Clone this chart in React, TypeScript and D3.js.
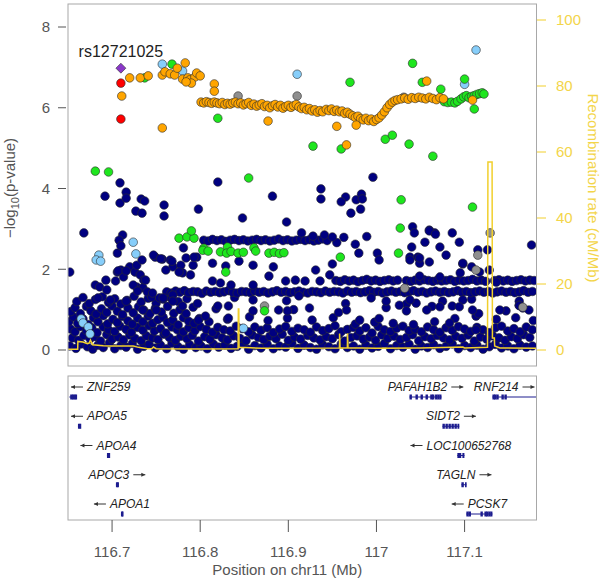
import React from 'react';
import * as d3 from 'd3';

type Pt = [number, number];

// ---- association results, -log10(p) by position (Mb) ----
const navyRow1: Pt[] = [[116.652,0.1],[116.659,0.04],[116.665,0.15],[116.672,0.08],[116.678,0.02],[116.684,0.12],[116.69,0.06],[116.697,0.18],[116.703,0.03],[116.71,0.11],[116.716,0.07],[116.723,0.16],[116.729,0.02],[116.736,0.09],[116.742,0.14],[116.749,0.05],[116.755,0.12],[116.762,0.03],[116.768,0.17],[116.775,0.08],[116.781,0.02],[116.788,0.13],[116.795,0.06],[116.801,0.1],[116.808,0.03],[116.815,0.15],[116.821,0.07],[116.828,0.12],[116.835,0.04],[116.842,0.09],[116.849,0.16],[116.855,0.02],[116.862,0.11],[116.869,0.05],[116.876,0.14],[116.883,0.03],[116.89,0.1],[116.897,0.07],[116.904,0.17],[116.911,0.04],[116.918,0.12],[116.925,0.06],[116.932,0.02],[116.939,0.13],[116.946,0.08],[116.953,0.03],[116.96,0.15],[116.967,0.06],[116.974,0.1],[116.981,0.02],[116.988,0.12],[116.995,0.05],[117.002,0.09],[117.009,0.16],[117.016,0.03],[117.023,0.11],[117.03,0.07],[117.037,0.14],[117.044,0.02],[117.051,0.1],[117.058,0.06],[117.065,0.13],[117.072,0.04],[117.079,0.09],[117.086,0.15],[117.093,0.03],[117.1,0.11],[117.107,0.06],[117.114,0.12],[117.121,0.02],[117.128,0.08],[117.135,0.14],[117.142,0.05],[117.149,0.1],[117.156,0.03],[117.163,0.12],[117.17,0.07],[117.177,0.1]];
const navyRow2: Pt[] = [[116.655,0.3],[116.662,0.24],[116.668,0.36],[116.675,0.28],[116.681,0.33],[116.687,0.22],[116.694,0.38],[116.7,0.27],[116.707,0.32],[116.713,0.25],[116.72,0.37],[116.726,0.29],[116.733,0.23],[116.739,0.35],[116.746,0.3],[116.752,0.26],[116.759,0.39],[116.765,0.31],[116.772,0.24],[116.778,0.34],[116.785,0.28],[116.791,0.36],[116.798,0.22],[116.805,0.33],[116.811,0.27],[116.818,0.38],[116.825,0.3],[116.831,0.25],[116.838,0.35],[116.845,0.29],[116.852,0.23],[116.859,0.37],[116.866,0.31],[116.872,0.26],[116.879,0.34],[116.886,0.28],[116.893,0.39],[116.9,0.24],[116.907,0.32],[116.914,0.27],[116.922,0.36],[116.929,0.3],[116.936,0.25],[116.943,0.33],[116.95,0.28],[116.957,0.38],[116.964,0.22],[116.971,0.31],[116.978,0.35],[116.985,0.27],[116.992,0.32],[116.999,0.24],[117.006,0.37],[117.013,0.29],[117.02,0.34],[117.027,0.26],[117.034,0.31],[117.041,0.38],[117.048,0.23],[117.055,0.33],[117.062,0.28],[117.069,0.36],[117.076,0.3],[117.083,0.25],[117.09,0.34],[117.097,0.29],[117.104,0.37],[117.111,0.22],[117.118,0.32],[117.125,0.27],[117.132,0.35],[117.139,0.3],[117.146,0.24],[117.153,0.33],[117.16,0.28],[117.167,0.38],[117.174,0.31]];
const navyRow3: Pt[] = [[116.653,0.52],[116.658,0.45],[116.664,0.58],[116.671,0.48],[116.677,0.55],[116.683,0.43],[116.69,0.57],[116.696,0.5],[116.703,0.46],[116.709,0.59],[116.716,0.51],[116.722,0.44],[116.729,0.56],[116.735,0.49],[116.742,0.6],[116.748,0.47],[116.755,0.53],[116.761,0.42],[116.768,0.57],[116.774,0.5],[116.781,0.45],[116.787,0.55],[116.794,0.48],[116.8,0.58],[116.807,0.51],[116.814,0.44],[116.82,0.56],[116.827,0.5],[116.834,0.47],[116.841,0.59],[116.848,0.53],[116.855,0.45],[116.862,0.57],[116.869,0.49],[116.876,0.55],[116.883,0.43],[116.89,0.52],[116.897,0.58],[116.904,0.46],[116.911,0.54],[116.918,0.5],[116.925,0.44],[116.932,0.57],[116.939,0.48],[116.946,0.53],[116.953,0.6],[116.96,0.45],[116.967,0.51],[116.974,0.56],[116.981,0.47],[116.988,0.55],[116.995,0.42],[117.002,0.58],[117.009,0.5],[117.016,0.46],[117.023,0.54],[117.03,0.59],[117.037,0.48],[117.044,0.52],[117.051,0.45],[117.058,0.57],[117.065,0.5],[117.072,0.44],[117.079,0.55],[117.086,0.49],[117.093,0.58],[117.1,0.52],[117.107,0.46],[117.114,0.56],[117.121,0.5],[117.128,0.43],[117.135,0.55],[117.142,0.59],[117.149,0.47],[117.156,0.53],[117.163,0.45],[117.17,0.57],[117.177,0.5]];
const navyRow4: Pt[] = [[116.651,0.7],[116.656,0.82],[116.661,0.66],[116.667,0.77],[116.673,0.63],[116.679,0.8],[116.684,0.7],[116.69,0.85],[116.695,0.65],[116.701,0.76],[116.706,0.68],[116.712,0.83],[116.718,0.72],[116.723,0.64],[116.729,0.79],[116.735,0.7],[116.741,0.84],[116.746,0.66],[116.752,0.75],[116.758,0.81],[116.763,0.68],[116.769,0.74],[116.775,0.62],[116.781,0.8],[116.787,0.71],[116.793,0.66],[116.799,0.78],[116.81,0.7],[116.831,0.76],[116.856,0.82],[116.877,0.73],[116.899,0.79],[116.927,0.74],[116.951,0.8],[116.976,0.64],[116.998,0.69],[117.019,0.66],[117.042,0.63],[117.066,0.7],[117.089,0.78],[117.113,0.84],[117.136,0.76],[117.158,0.8],[117.178,0.73]];
const navyRow5: Pt[] = [[116.653,0.95],[116.658,1.05],[116.664,0.9],[116.671,1.08],[116.676,0.97],[116.682,0.89],[116.688,1.02],[116.694,0.93],[116.7,1.09],[116.706,0.96],[116.712,0.88],[116.718,1.04],[116.724,0.92],[116.73,1.07],[116.736,0.99],[116.743,0.9],[116.749,1.03],[116.756,0.94],[116.763,1.08],[116.77,0.91],[116.777,1.0],[116.784,0.9],[116.792,1.06],[116.818,1.02],[116.86,0.97],[116.906,1.0],[116.957,0.93],[117.011,1.05],[117.063,1.08],[117.116,0.9],[117.166,1.04]];
const navyRow6: Pt[] = [[116.66,1.2],[116.667,1.3],[116.674,1.15],[116.681,1.25],[116.689,1.32],[116.696,1.18],[116.703,1.27],[116.71,1.14],[116.717,1.23],[116.725,1.33],[116.733,1.19],[116.741,1.28],[116.75,1.16],[116.758,1.26],[116.766,1.31],[116.775,1.2],[116.785,1.27],[116.797,1.15],[116.839,1.3],[116.898,1.22],[116.965,1.15],[117.034,1.14],[117.108,1.26],[117.162,1.21]];
const navyBandLow: Pt[] = [[116.762,1.44],[116.767,1.41],[116.772,1.46],[116.777,1.43],[116.782,1.47],[116.787,1.42],[116.792,1.45],[116.797,1.44],[116.802,1.4],[116.807,1.46],[116.812,1.43],[116.817,1.45],[116.822,1.42],[116.827,1.44],[116.832,1.47],[116.837,1.43],[116.842,1.41],[116.847,1.45],[116.852,1.44],[116.857,1.42],[116.862,1.46],[116.867,1.43],[116.872,1.45],[116.877,1.41],[116.882,1.44],[116.887,1.47],[116.892,1.43],[116.897,1.45],[116.902,1.42],[116.907,1.44],[116.912,1.46],[116.917,1.43],[116.922,1.41],[116.927,1.45],[116.932,1.44],[116.937,1.42],[116.942,1.46],[116.947,1.43],[116.952,1.45],[116.957,1.44],[116.962,1.41],[116.967,1.46],[116.972,1.43],[116.977,1.45],[116.982,1.42],[116.987,1.44],[116.992,1.47],[116.997,1.43],[117.002,1.45],[117.007,1.41],[117.012,1.44],[117.017,1.46],[117.022,1.43],[117.027,1.45],[117.032,1.42],[117.037,1.44],[117.042,1.47],[117.047,1.43],[117.052,1.45],[117.057,1.41],[117.062,1.44],[117.067,1.46],[117.072,1.43],[117.077,1.45],[117.082,1.42],[117.087,1.44],[117.092,1.47],[117.097,1.43],[117.102,1.45],[117.107,1.42],[117.112,1.44],[117.117,1.46],[117.122,1.43],[117.127,1.45],[117.132,1.41],[117.137,1.44],[117.142,1.46],[117.147,1.43],[117.152,1.45],[117.157,1.42],[117.162,1.44],[117.167,1.47],[117.172,1.43],[117.177,1.45]];
const navyBandMid: Pt[] = [[116.954,1.72],[116.959,1.7],[116.964,1.74],[116.969,1.71],[116.974,1.73],[116.979,1.69],[116.984,1.72],[116.989,1.75],[116.994,1.71],[116.999,1.73],[117.004,1.7],[117.009,1.72],[117.014,1.74],[117.019,1.71],[117.024,1.73],[117.034,1.72],[117.039,1.7],[117.044,1.73],[117.049,1.71],[117.054,1.74],[117.059,1.72],[117.064,1.7],[117.069,1.73],[117.074,1.71],[117.079,1.72],[117.084,1.74],[117.089,1.7],[117.094,1.73],[117.099,1.71],[117.104,1.72],[117.109,1.75],[117.114,1.71],[117.119,1.73],[117.124,1.7],[117.134,1.72],[117.139,1.74],[117.144,1.71],[117.149,1.73],[117.154,1.7],[117.159,1.72],[117.164,1.74],[117.169,1.71],[117.174,1.73],[117.179,1.72]];
const navyBandHigh: Pt[] = [[116.804,2.72],[116.809,2.7],[116.814,2.74],[116.819,2.71],[116.824,2.73],[116.829,2.69],[116.834,2.72],[116.839,2.74],[116.844,2.71],[116.849,2.73],[116.854,2.7],[116.859,2.72],[116.864,2.74],[116.869,2.71],[116.874,2.73],[116.879,2.7],[116.884,2.72],[116.889,2.75],[116.894,2.71],[116.899,2.73],[116.904,2.7],[116.909,2.72],[116.914,2.74],[116.919,2.71],[116.924,2.73],[116.929,2.7],[116.934,2.72],[116.939,2.75],[116.944,2.71],[116.955,2.66],[116.963,2.79],[116.976,2.62],[116.989,2.81]];
const navyScatter: Pt[] = [[116.681,1.61],[116.686,1.56],[116.693,1.73],[116.694,1.49],[116.684,1.29],[116.698,1.24],[116.652,1.93],[116.706,2.4],[116.706,1.93],[116.71,1.98],[116.713,1.81],[116.72,2.06],[116.726,1.93],[116.728,2.1],[116.732,1.86],[116.734,2.23],[116.736,1.73],[116.728,1.56],[116.735,1.54],[116.74,1.44],[116.745,1.31],[116.754,1.29],[116.769,1.36],[116.749,2.3],[116.757,2.25],[116.766,2.23],[116.769,2.06],[116.78,1.91],[116.792,2.1],[116.796,2.3],[116.781,2.53],
  [116.709,4.14],[116.692,3.81],[116.716,3.91],[116.709,3.64],[116.716,3.76],[116.733,3.74],[116.737,3.69],[116.727,3.44],[116.734,3.39],[116.759,3.59],[116.759,3.32],[116.798,3.49],[116.82,4.16],[116.848,3.27],[116.882,3.81],[116.898,3.17],[116.668,2.9],[116.712,2.85],[116.708,2.72],[116.71,2.58],
  [116.747,2.35],[116.755,2.26],[116.768,2.2],[116.778,2.1],[116.784,2.28],[116.793,2.3],[116.761,1.98],[116.776,1.93],[116.789,1.86],[116.814,2.15],[116.829,2.08],[116.844,2.2],[116.86,2.1],[116.878,1.83],[116.883,2.06],[116.897,1.71],[116.908,1.73],[116.814,1.71],[116.823,1.66],[116.835,1.61],[116.86,1.61],[116.707,1.96],[116.716,1.96],[116.704,1.71],[116.724,1.61],[116.738,1.73],[116.729,1.46],[116.746,1.41],[116.758,1.29],[116.75,0.99],[116.735,0.99],[116.716,1.21],[116.769,1.21],[116.78,1.09],[116.798,0.74],[116.806,0.84],[116.82,1.09],[116.832,1.09],[116.832,0.79],[116.86,1.24],[116.889,0.99],[116.899,0.97],[116.912,1.34],
  [116.931,1.98],[116.95,2.13],[116.947,1.86],[116.98,2.4],[117.001,2.4],[117.003,2.23],[117.038,2.3],[117.047,2.3],[117.079,2.35],[117.098,2.13],[117.095,1.91],[117.049,2.15],[116.919,1.71],[116.936,1.71],[116.924,1.04],[116.966,0.99],[116.994,1.29],[117.011,1.21],[117.026,1.11],[117.034,0.97],[117.045,1.16],[117.057,0.99],[117.075,1.21],[117.086,1.09],[117.098,1.24],[117.109,0.99],[117.147,0.97],[117.162,1.11],[117.173,0.99],[116.981,0.74],[117.003,0.78],
  [117.041,3.05],[117.043,2.9],[117.06,2.97],[117.066,2.9],[117.086,2.9],[117.094,2.67],[117.115,2.48],[117.176,2.6],[117.038,2.23],[117.049,2.28],[117.055,2.67],[117.072,2.55],[117.098,2.15],[117.108,2.06],[117.117,1.93],[117.126,2.48],[117.128,1.98],[117.136,1.68],[117.04,2.55],[117.06,2.18],[117.072,1.81],[117.049,1.83],[117.038,1.24],[117.072,1.07],[117.094,1.07],[117.14,0.99],[117.162,1.1],[117.083,0.67],[117.113,0.5],
  [116.996,4.28],[116.937,3.99],[116.937,3.74],[116.965,3.79],[116.96,3.67],[116.977,3.72],[116.983,3.86],[116.984,3.74],[116.982,3.49],[116.971,3.39],[117.06,2.95],[117.067,2.87],[116.915,2.9],[116.928,2.82],[116.941,2.85],[116.95,2.8]];
const grayPts: Pt[] = [[116.843,6.29],[116.91,6.29],[117.031,6.26],[117.115,2.35],[117.113,1.98],[117.166,1.06],[117.032,1.53],[116.873,1.09],[117.129,2.9]];
const lightbluePts: Pt[] = [[116.685,2.35],[116.682,2.23],[116.687,2.2],[116.727,2.38],[116.724,2.67],[116.665,0.77],[116.667,0.67],[116.673,0.57],[116.675,0.4],[116.849,0.54],[116.91,6.83],[117.113,7.43],[117.1,6.58],[116.757,7.08],[116.78,6.91]];
const greenPts: Pt[] = [[116.681,4.43],[116.696,4.41],[116.855,4.26],[116.776,2.77],[116.785,2.8],[116.793,2.77],[116.79,2.95],[116.831,2.55],[116.804,2.52],[116.861,2.53],[116.803,2.47],[116.809,2.45],[116.823,2.43],[116.83,2.4],[116.835,2.44],[116.843,2.4],[116.849,2.42],[116.863,2.45],[116.878,2.4],[116.884,2.42],[116.89,2.39],[116.895,2.41],[116.829,1.93],[116.959,2.3],[117.025,2.4],[116.873,0.97],[117.028,3.72],[117.109,3.54],[117.027,3.02],
  [116.928,5.05],[116.96,4.98],[117.01,5.22],[117.018,5.32],[117.037,5.1],[117.064,4.8],[116.82,5.74],[116.97,6.63],[117.041,7.1],[117.052,6.63],[117.1,6.71],[117.073,6.46],[116.768,7.08],[116.737,6.74],
  [117.077,6.15],[117.081,6.13],[117.085,6.14],[117.089,6.12],[117.092,6.16],[117.096,6.22],[117.099,6.27],[117.102,6.3],[117.105,6.25],[117.108,6.28],[117.111,6.3],[117.114,6.33],[117.117,6.35],[117.12,6.37],[117.122,6.34],[117.111,5.97]];
const orangePts: Pt[] = [[116.711,6.29],[116.72,6.74],[116.732,6.74],[116.741,6.79],[116.757,6.81],[116.76,6.89],[116.766,6.84],[116.771,6.81],[116.774,6.98],[116.783,7.11],[116.78,6.71],[116.786,6.74],[116.788,6.69],[116.794,6.76],[116.796,6.86],[116.8,6.79],[116.79,6.61],[116.784,6.64],[116.757,5.5],[116.816,6.59],[116.816,6.41],
  [116.801,6.14],[116.804,6.12],[116.807,6.15],[116.81,6.13],[116.813,6.11],[116.816,6.14],[116.819,6.12],[116.822,6.1],[116.825,6.13],[116.828,6.08],[116.831,6.11],[116.834,6.09],[116.837,6.12],[116.84,6.14],[116.843,6.1],[116.846,6.12],[116.849,6.07],[116.852,6.1],[116.855,6.13],[116.858,6.06],[116.861,6.09],[116.864,6.04],[116.867,6.07],[116.87,6.1],[116.873,6.03],[116.876,6.06],[116.879,6.0],[116.882,6.05],[116.885,6.08],[116.888,6.02],[116.891,6.06],[116.894,5.99],[116.897,6.03],[116.9,6.06],[116.903,6.01],[116.906,6.05],[116.909,6.08],[116.912,6.02],[116.915,5.98],[116.918,6.01],[116.921,5.95],[116.924,5.98],[116.927,5.92],[116.93,5.95],[116.933,5.89],[116.936,5.93],[116.939,5.9],[116.943,5.96],[116.946,5.93],[116.949,5.97],[116.952,5.91],[116.955,5.94],[116.958,5.9],[116.961,5.92],[116.964,5.86],[116.967,5.89],[116.97,5.84],[116.973,5.8],[116.976,5.76],[116.979,5.79],[116.982,5.73],[116.985,5.7],[116.988,5.74],[116.991,5.68],[116.994,5.72],[116.997,5.66],[117.0,5.71],[117.003,5.75],[117.006,5.82],[117.009,5.9],[117.012,6.0],[117.015,6.08],[117.018,6.14],[117.021,6.18],[117.024,6.2],[117.028,6.22],[117.032,6.24],[117.036,6.21],[117.04,6.25],[117.044,6.23],[117.048,6.26],[117.052,6.24],[117.056,6.22],[117.06,6.26],[117.064,6.23],[117.068,6.2],[117.072,6.25],[117.076,6.22],[117.109,6.19],
  [117.057,6.66],[116.877,5.67],[116.955,5.54],[116.977,5.57],[116.966,5.08]];
const redPts: Pt[] = [[116.71,6.61],[116.71,5.72]];
const indexSnp = { name: 'rs12721025', pos: 116.71, logp: 6.98 };

// ---- recombination rate (cM/Mb) ----
const recomb: Pt[] = [[116.65,0.2],[116.661,0.2],[116.6612,2.6],[116.667,2.4],[116.672,1.9],[116.674,2.1],[116.6755,3.0],[116.678,1.6],[116.69,1.3],[116.7,1.2],[116.724,1.2],[116.73,0.8],[116.74,0.4],[116.745,0.35],[116.747,0.9],[116.75,0.4],[116.8,0.3],[116.843,0.4],[116.8433,12.4],[116.8438,12.4],[116.8441,0.8],[116.87,0.5],[116.958,0.6],[116.9582,5.0],[116.9587,0.7],[116.967,0.6],[116.9672,5.0],[116.9677,0.7],[117.0,0.5],[117.05,0.6],[117.098,0.9],[117.1,0.6],[117.126,0.8],[117.1265,57],[117.1312,57],[117.1316,3.6],[117.1338,3.6],[117.1341,1.2],[117.14,0.6],[117.182,0.5]];

// ---- genes ----
type Gene = { name: string, strand: '+' | '-', row: number, start: number, end: number, exons: number[] };
const genes: Gene[] = [
  { name: 'ZNF259', strand: '-', row: 0, start: 116.6515, end: 116.6602, exons: [116.6525, 116.6545, 116.6565, 116.6585] },
  { name: 'PAFAH1B2', strand: '+', row: 0, start: 117.0375, end: 117.0738, exons: [117.0375, 117.0443, 117.05, 117.0557, 117.061, 117.063, 117.0665, 117.069, 117.0715] },
  { name: 'RNF214', strand: '+', row: 0, start: 117.1316, end: 117.19, exons: [117.1316, 117.1335, 117.136, 117.1418, 117.1452] },
  { name: 'APOA5', strand: '-', row: 1, start: 116.6613, end: 116.6647, exons: [116.6613, 116.6632] },
  { name: 'SIDT2', strand: '+', row: 1, start: 117.0749, end: 117.094, exons: [117.0749, 117.0783, 117.0817, 117.0851, 117.0885, 117.0919] },
  { name: 'APOA4', strand: '-', row: 2, start: 116.6942, end: 116.6976, exons: [116.6942, 116.696] },
  { name: 'LOC100652768', strand: '-', row: 2, start: 117.0918, end: 117.0998, exons: [117.0918, 117.0935, 117.0975] },
  { name: 'APOC3', strand: '+', row: 3, start: 116.7044, end: 116.7067, exons: [116.7044, 116.706] },
  { name: 'TAGLN', strand: '+', row: 3, start: 117.0964, end: 117.102, exons: [117.0964, 117.1005] },
  { name: 'APOA1', strand: '-', row: 4, start: 116.7101, end: 116.7123, exons: [116.7101, 116.7112] },
  { name: 'PCSK7', strand: '-', row: 4, start: 117.102, end: 117.1316, exons: [117.102, 117.1045, 117.118, 117.1225, 117.1245, 117.127, 117.1295] },
];

const xTicks = [116.7, 116.8, 116.9, 117, 117.1];
const yTicks = [0, 2, 4, 6, 8];
const recTicks = [0, 20, 40, 60, 80, 100];

const FONT = "'Liberation Sans', Arial, Helvetica, sans-serif";
const AXIS = '#555555';
const FRAME = '#a8a8a8';
const YEL = '#f1cf2c';
const YEL_TXT = '#f3d54a';
const GENE = '#1c1c8f';

const App: React.FC = () => {
  const width = 604;
  const height = 582;
  const left = 68, right = 536.5, top = 4, bottom = 366;
  const gTop = 376, gBottom = 520;

  const xScale = d3.scaleLinear().domain([116.65, 117.1816]).range([left, right]);
  const yScale = d3.scaleLinear().domain([0, 8]).range([350, 27]);
  const rScale = d3.scaleLinear().domain([0, 100]).range([350, 20]);
  const rowScale = d3.scaleLinear().domain([0, 4]).range([397, 514]);

  const recLine = d3.line<Pt>().x(d => xScale(d[0])).y(d => rScale(d[1]))(recomb) || '';

  const groups: { pts: Pt[], fill: string }[] = [
    { pts: [...navyRow1, ...navyRow2, ...navyRow3, ...navyRow4, ...navyRow5, ...navyRow6, ...navyBandLow, ...navyBandMid, ...navyBandHigh, ...navyScatter], fill: '#000080' },
    { pts: grayPts, fill: '#8f8f8f' },
    { pts: lightbluePts, fill: '#87cefa' },
    { pts: greenPts, fill: '#1ee61e' },
    { pts: orangePts, fill: '#ffa500' },
    { pts: redPts, fill: '#ff0000' },
  ];

  // text measurement for gene labels
  const canvas = typeof document !== 'undefined' ? document.createElement('canvas') : null;
  const ctx = canvas ? canvas.getContext('2d') : null;
  const measure = (s: string) => {
    if (!ctx) return s.length * 7;
    ctx.font = `italic 12px ${FONT}`;
    return ctx.measureText(s).width;
  };
  const arrowLen = 12, arrowGap = 4;

  const ix = xScale(indexSnp.pos), iy = yScale(indexSnp.logp);

  return (
    <svg width={width} height={height} style={{ position: 'absolute', left: 0, top: 0, background: '#fff' }} fontFamily={FONT}>
      <defs>
        <clipPath id="plotClip"><rect x={left} y={top} width={right - left} height={bottom - top} /></clipPath>
        <clipPath id="geneClip"><rect x={left} y={gTop} width={right - left} height={gBottom - gTop} /></clipPath>
      </defs>

      {/* left axis */}
      {yTicks.map(t => (
        <g key={t} transform={`translate(0, ${yScale(t)})`}>
          <line x1={58} x2={66} stroke={AXIS} strokeWidth={1} />
          <text x={50} dy="0.35em" textAnchor="end" fontSize={15} fill={AXIS}>{t}</text>
        </g>
      ))}
      <text transform={`translate(15, 188) rotate(-90)`} textAnchor="middle" fontSize={15} fill={AXIS}>
        −log<tspan fontSize={11} dy={4}>10</tspan><tspan dy={-4}>(p-value)</tspan>
      </text>

      {/* right axis */}
      {recTicks.map(t => (
        <g key={t} transform={`translate(0, ${rScale(t)})`}>
          <line x1={537} x2={546} stroke={YEL} strokeWidth={1} />
          <text x={556} dy="0.35em" fontSize={15} fill={YEL_TXT}>{t}</text>
        </g>
      ))}
      <text transform={`translate(588, 188) rotate(90)`} textAnchor="middle" fontSize={15} fill={YEL_TXT}>Recombination rate (cM/Mb)</text>

      {/* points */}
      <g clipPath="url(#plotClip)">
        {groups.map((g, gi) => (
          <g key={gi}>
            {g.pts.map((d, i) => (
              <circle key={i} cx={xScale(d[0])} cy={yScale(d[1])} r={4.3} fill={g.fill} stroke="#2b2b2b" strokeWidth={0.6} />
            ))}
          </g>
        ))}
        <path d={`M${ix},${iy - 5}L${ix + 5},${iy}L${ix},${iy + 5}L${ix - 5},${iy}Z`} fill="#8a37c8" stroke="#333" strokeWidth={0.6} />
        <path d={recLine} fill="none" stroke={YEL} strokeWidth={1.5} />
      </g>
      <text x={ix} y={iy - 11} textAnchor="middle" fontSize={16} fill="#222">{indexSnp.name}</text>
      <rect x={left} y={top} width={right - left} height={bottom - top} fill="none" stroke={FRAME} strokeWidth={1} />

      {/* genes */}
      <g clipPath="url(#geneClip)">
        {genes.map(g => {
          const cy = rowScale(g.row);
          const x1 = xScale(g.start), x2 = xScale(g.end);
          return (
            <g key={g.name}>
              <line x1={x1} x2={x2} y1={cy} y2={cy} stroke={GENE} strokeWidth={1} />
              {g.exons.map((e, i) => {
                const ex = xScale(e);
                return <rect key={i} x={ex} y={cy - 2.5} width={Math.max(1.6, Math.min(2.4, x2 - ex))} height={5} fill={GENE} />;
              })}
            </g>
          );
        })}
      </g>
      {genes.map(g => {
        const cy = rowScale(g.row);
        const tw = measure(g.name);
        const total = tw + arrowGap + arrowLen;
        const mid = (xScale(g.start) + Math.min(xScale(g.end), right)) / 2;
        const cx = Math.max(left + 3 + total / 2, Math.min(right - 2 - total / 2, mid));
        const lx = cx - total / 2;
        const ty = cy - 6;
        const ay = cy - 10;
        if (g.strand === '-') {
          const ax1 = lx, ax2 = lx + arrowLen;
          return (
            <g key={g.name}>
              <line x1={ax1} x2={ax2} y1={ay} y2={ay} stroke="#333" strokeWidth={1} />
              <path d={`M${ax1},${ay}L${ax1 + 4},${ay - 2}L${ax1 + 4},${ay + 2}Z`} fill="#333" />
              <text x={ax2 + arrowGap} y={ty} fontSize={12} fontStyle="italic" fill="#222">{g.name}</text>
            </g>
          );
        }
        const ax1 = lx + tw + arrowGap, ax2 = ax1 + arrowLen;
        return (
          <g key={g.name}>
            <text x={lx} y={ty} fontSize={12} fontStyle="italic" fill="#222">{g.name}</text>
            <line x1={ax1} x2={ax2} y1={ay} y2={ay} stroke="#333" strokeWidth={1} />
            <path d={`M${ax2},${ay}L${ax2 - 4},${ay - 2}L${ax2 - 4},${ay + 2}Z`} fill="#333" />
          </g>
        );
      })}
      <rect x={left} y={gTop} width={right - left} height={gBottom - gTop} fill="none" stroke={FRAME} strokeWidth={1} />

      {/* bottom axis */}
      {xTicks.map(t => (
        <g key={t} transform={`translate(${xScale(t)}, 0)`}>
          <line y1={gBottom} y2={gBottom + 12} stroke={AXIS} strokeWidth={1} />
          <text y={557} textAnchor="middle" fontSize={15} fill={AXIS}>{t}</text>
        </g>
      ))}
      <text x={(left + right) / 2 - 15} y={575} textAnchor="middle" fontSize={15} fill={AXIS}>Position on chr11 (Mb)</text>
    </svg>
  );
};

export default App;
